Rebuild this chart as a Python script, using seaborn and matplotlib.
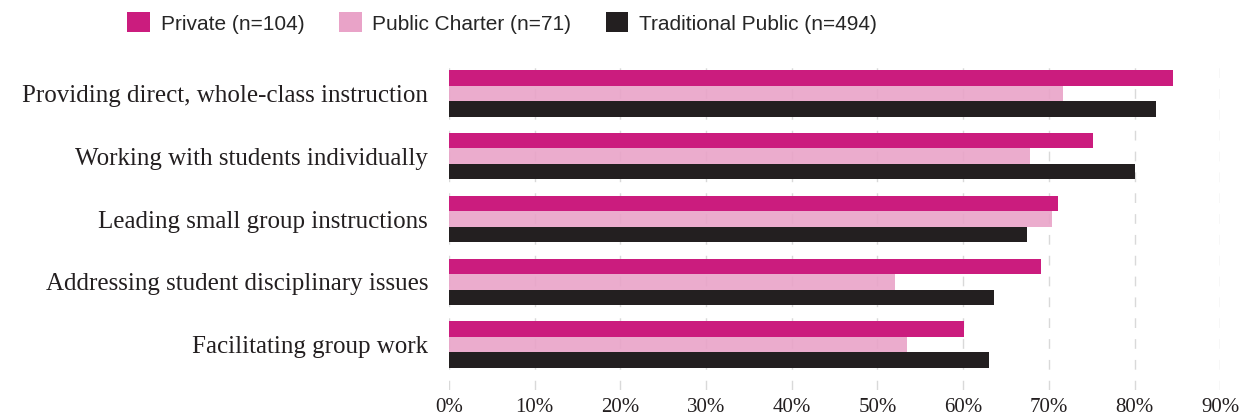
import pandas as pd
import matplotlib.pyplot as plt
import seaborn as sns
from matplotlib.patches import Patch

# 数据
categories = [
    'Providing direct, whole-class instruction',
    'Working with students individually',
    'Leading small group instructions',
    'Addressing student disciplinary issues',
    'Facilitating group work',
]
private = [84.5, 75.1, 71.1, 69.1, 60.1]
charter = [71.6, 67.8, 70.4, 52.0, 53.5]
traditional = [82.5, 80.1, 67.5, 63.6, 63.0]
groups = ['Private (n=104)', 'Public Charter (n=71)', 'Traditional Public (n=494)']
xticks = [0, 10, 20, 30, 40, 50, 60, 70, 80, 90]

colors = ['#CB1C7E', '#E9A3C8', '#231F20']

df = pd.DataFrame({'task': categories, groups[0]: private,
                   groups[1]: charter, groups[2]: traditional})
df = df.melt(id_vars='task', var_name='group', value_name='pct')

sns.set_style('white')
plt.rcParams['font.family'] = ['Liberation Serif', 'DejaVu Serif']

fig = plt.figure(figsize=(12.49, 4.18), dpi=100)
ax = fig.add_axes([0.3595, 0.067, 0.6175, 0.785])

sns.barplot(data=df, x='pct', y='task', hue='group', palette=colors,
            orient='h', width=0.74, gap=0, saturation=1, linewidth=0,
            ax=ax, legend=False, zorder=2)

# 浅色柱子稍微透明，网格线可以透出来
for bar in ax.containers[1]:
    bar.set_alpha(0.9)

ax.set_xlim(0, 90)
ax.set_ylim(4.72, -0.5)
ax.set_xticks(xticks)
ax.set_xticklabels([f'{t}%' for t in xticks], fontsize=15, color='#231F20')
ax.tick_params(axis='y', labelsize=18, labelcolor='#231F20', length=0, pad=15)
ax.tick_params(axis='x', length=0, pad=6)
ax.set_xlabel('')
ax.set_ylabel('')
ax.xaxis.grid(True, color='#D9D9D9', linewidth=1, linestyle=(0, (7, 8)), zorder=0)
ax.set_axisbelow(True)
sns.despine(ax=ax, left=True, bottom=True)

# 图例
handles = [Patch(facecolor=c, edgecolor='none') for c in colors]
fig.legend(handles, groups, loc='upper center', bbox_to_anchor=(0.402, 1.015),
           ncol=3, frameon=False, handlelength=1.1, handleheight=1.1,
           columnspacing=1.65, handletextpad=0.5,
           prop={'family': ['Liberation Sans', 'DejaVu Sans'], 'size': 15})

plt.savefig('out.png', dpi=100)
